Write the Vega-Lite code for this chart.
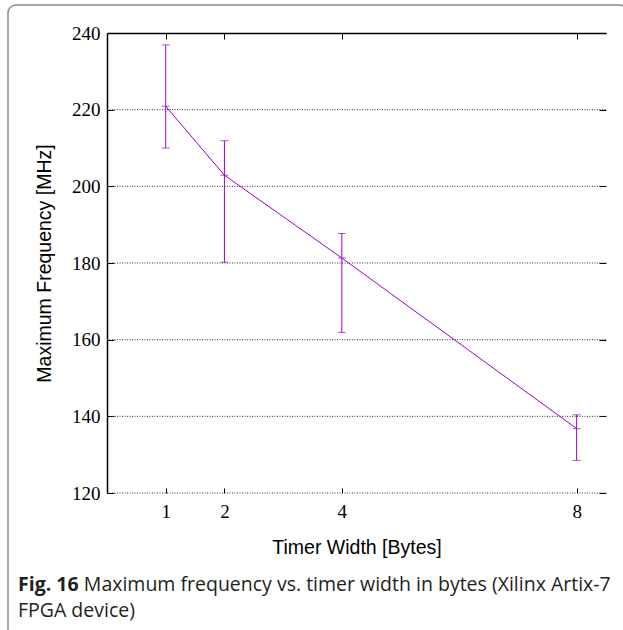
{
  "$schema": "https://vega.github.io/schema/vega-lite/v6.json",
  "width": 620,
  "height": 635,
  "autosize": {"type": "none"},
  "padding": {"left": 8, "top": 5, "right": -5, "bottom": -10},
  "config": {
    "view": {"stroke": "#8a8a8a", "strokeWidth": 1.5, "cornerRadius": 8},
    "axis": {"labelFont": "Liberation Serif", "labelFontSize": 19, "labelColor": "#000", "titleFont": "Liberation Sans", "titleFontSize": 19.5, "titleFontWeight": "normal", "titleColor": "#000", "domainColor": "#000", "tickColor": "#000", "grid": false}
  },
  "title": {
    "text": "Fig. 16",
    "subtitle": ["\u200b\u00a0\u00a0\u00a0\u00a0\u00a0\u00a0\u00a0\u00a0\u00a0\u00a0\u00a0\u00a0\u00a0Maximum frequency vs. timer width in bytes (Xilinx Artix-7", "FPGA device)"],
    "orient": "bottom",
    "anchor": "start",
    "frame": "group",
    "offset": -64,
    "dx": 10,
    "font": "Open Sans",
    "fontSize": 19.5,
    "fontWeight": "bold",
    "color": "#231f20",
    "subtitleFont": "Open Sans",
    "subtitleFontSize": 19.5,
    "subtitleColor": "#231f20",
    "subtitleLineHeight": 26,
    "subtitlePadding": -19.5
  },
  "datasets": {
    "pts": [
      {"width": 1, "freq": 220.9, "lo": 210.0, "hi": 236.9},
      {"width": 2, "freq": 202.9, "lo": 180.2, "hi": 211.9},
      {"width": 4, "freq": 181.3, "lo": 161.9, "hi": 187.7},
      {"width": 8, "freq": 136.8, "lo": 128.5, "hi": 140.4}
    ],
    "grid": [{"g": 120}, {"g": 140}, {"g": 160}, {"g": 180}, {"g": 200}, {"g": 220}]
  },
  "resolve": {"axis": {"x": "independent", "y": "independent"}},
  "layer": [
    {
      "data": {"name": "grid"},
      "mark": {"type": "rule", "strokeDash": [1, 1.5], "color": "#333", "strokeWidth": 1},
      "encoding": {
        "y": {
          "field": "g", "type": "quantitative",
          "scale": {"domain": [120, 240], "range": [488, 28], "nice": false, "zero": false},
          "axis": {"orient": "left", "offset": -99, "values": [120, 140, 160, 180, 200, 220, 240], "tickSize": -7, "labelPadding": 14, "domainWidth": 1.5, "title": "Maximum Frequency [MHz]", "titlePadding": 17}
        },
        "x": {
          "datum": 0, "type": "quantitative",
          "scale": {"domain": [0, 8.5], "range": [99, 598], "nice": false, "zero": false},
          "axis": {"orient": "bottom", "offset": -147, "values": [1, 2, 4, 8], "tickSize": -5, "labelPadding": 14, "domain": false, "title": "Timer Width [Bytes]", "titlePadding": 17}
        },
        "x2": {"datum": 8.5}
      }
    },
    {
      "data": {"name": "pts"},
      "mark": {"type": "line", "color": "#9400d3", "strokeWidth": 1},
      "encoding": {
        "x": {"field": "width", "type": "quantitative", "axis": {"orient": "top", "offset": -28, "values": [1, 2, 4, 8], "tickSize": -6, "labels": false, "title": null, "domainWidth": 1.5}},
        "y": {"field": "freq", "type": "quantitative", "axis": {"orient": "right", "offset": -22, "values": [120, 140, 160, 180, 200, 220, 240], "tickSize": -7, "labels": false, "domain": false, "title": null}}
      }
    },
    {
      "data": {"name": "pts"},
      "mark": {"type": "rule", "color": "#9400d3", "strokeWidth": 1},
      "encoding": {
        "x": {"field": "width", "type": "quantitative", "axis": null},
        "y": {"field": "lo", "type": "quantitative", "axis": null},
        "y2": {"field": "hi"}
      }
    },
    {
      "data": {"name": "pts"},
      "mark": {"type": "tick", "orient": "horizontal", "color": "#9400d3", "size": 8, "thickness": 1},
      "encoding": {
        "x": {"field": "width", "type": "quantitative", "axis": null},
        "y": {"field": "hi", "type": "quantitative", "axis": null}
      }
    },
    {
      "data": {"name": "pts"},
      "mark": {"type": "tick", "orient": "horizontal", "color": "#9400d3", "size": 8, "thickness": 1},
      "encoding": {
        "x": {"field": "width", "type": "quantitative", "axis": null},
        "y": {"field": "lo", "type": "quantitative", "axis": null}
      }
    },
    {
      "data": {"name": "pts"},
      "mark": {"type": "tick", "orient": "horizontal", "color": "#9400d3", "size": 8, "thickness": 1},
      "encoding": {
        "x": {"field": "width", "type": "quantitative", "axis": null},
        "y": {"field": "freq", "type": "quantitative", "axis": null}
      }
    }
  ]
}
